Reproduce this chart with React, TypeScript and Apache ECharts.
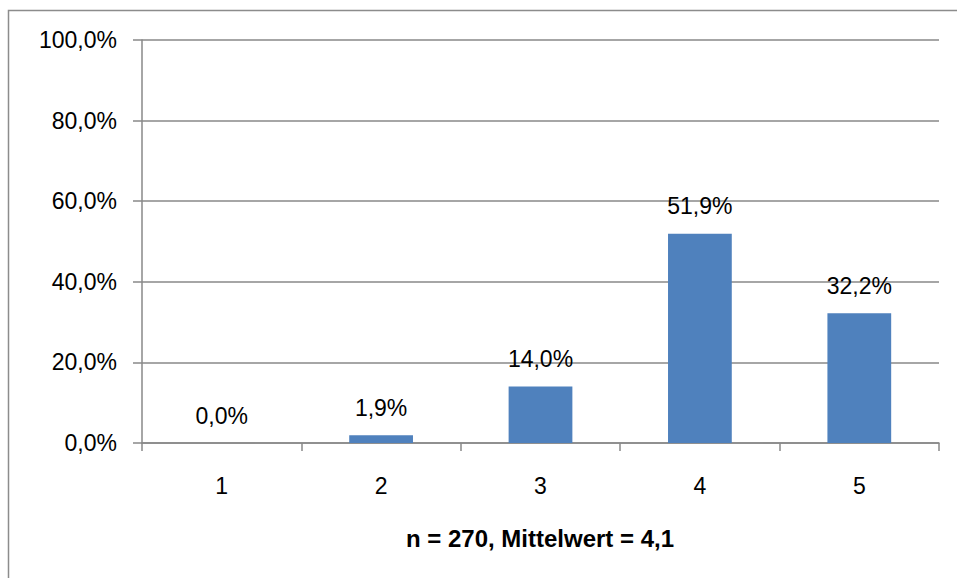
import React, { useEffect, useRef } from "react";
import * as echarts from "echarts";

const categories = ["1", "2", "3", "4", "5"];
const shares = [0.0, 1.9, 14.0, 51.9, 32.2];
const yTicks = [0, 20, 40, 60, 80, 100];
const footnote = "n = 270, Mittelwert = 4,1";

const FONT = "'Liberation Sans', Arial, sans-serif";
const GRAY = "#888888";

function fmt(v: number): string {
  return v.toFixed(1).replace(".", ",") + "%";
}

export default function App() {
  const ref = useRef<HTMLDivElement>(null);
  useEffect(() => {
    if (!ref.current) return;
    const chart = echarts.init(ref.current, undefined, { renderer: "svg" });
    chart.setOption({
      animation: false,
      backgroundColor: "#ffffff",
      textStyle: { fontFamily: FONT },
      grid: { left: 142, top: 40, right: 18, bottom: 135, containLabel: false },
      xAxis: {
        type: "category",
        data: categories,
        boundaryGap: true,
        axisLine: { show: true, lineStyle: { color: GRAY, width: 1.5 } },
        axisTick: { show: true, alignWithLabel: false, length: 8, lineStyle: { color: GRAY, width: 1.5 } },
        axisLabel: { color: "#000", fontSize: 23, fontFamily: FONT, margin: 31 },
        splitLine: { show: false },
      },
      yAxis: {
        type: "value",
        min: yTicks[0],
        max: yTicks[yTicks.length - 1],
        interval: 20,
        axisLine: { show: true, lineStyle: { color: GRAY, width: 1.5 } },
        axisTick: { show: true, length: 9, lineStyle: { color: GRAY, width: 1.5 } },
        axisLabel: {
          color: "#000",
          fontSize: 23,
          fontFamily: FONT,
          margin: 25,
          formatter: (v: number) => fmt(v),
        },
        splitLine: { show: true, lineStyle: { color: GRAY, width: 1.5 } },
      },
      series: [
        {
          type: "bar",
          data: shares,
          barWidth: "40%",
          itemStyle: { color: "#4F81BD" },
          label: {
            show: true,
            position: "top",
            distance: 16,
            color: "#000",
            fontSize: 23,
            fontFamily: FONT,
            formatter: (p: any) => fmt(p.value),
          },
        },
      ],
      graphic: [
        {
          type: "rect",
          shape: { x: 8.5, y: 10.5, width: 1200, height: 1200 },
          style: { fill: "none", stroke: "#8c8c8c", lineWidth: 1.5 },
          silent: true,
          z: 0,
        },
        {
          type: "text",
          x: 540,
          y: 538,
          style: {
            text: footnote,
            fill: "#000",
            font: `bold 24px ${FONT}`,
            align: "center",
            verticalAlign: "middle",
          },
        },
      ],
    });
    return () => chart.dispose();
  }, []);
  return (
    <div
      ref={ref}
      style={{ position: "absolute", left: 0, top: 0, width: 957, height: 578 }}
    />
  );
}
